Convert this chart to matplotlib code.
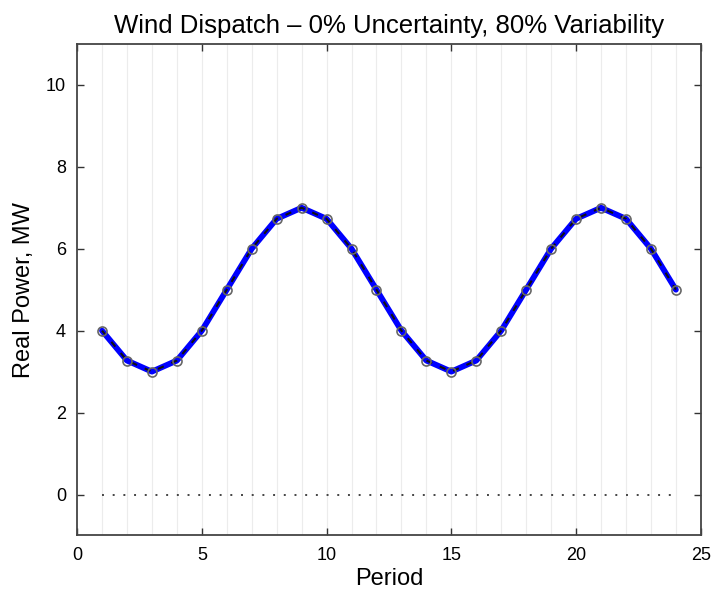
import matplotlib
matplotlib.use("Agg")
import matplotlib.pyplot as plt

plt.rcParams['font.family'] = ['Liberation Sans', 'DejaVu Sans']

# periods and wind dispatch (MW)
period = list(range(1, 25))
dispatch = [4.0, 3.27, 3.0, 3.27, 4.0, 5.0, 6.0, 6.73, 7.0, 6.73, 6.0, 5.0,
            4.0, 3.27, 3.0, 3.27, 4.0, 5.0, 6.0, 6.73, 7.0, 6.73, 6.0, 5.0]
available = dispatch
zero_line = [0.0] * 24

fig = plt.figure(figsize=(7.27, 5.93), dpi=100)
ax = fig.add_axes([0.106, 0.097, 0.858, 0.829])

# light vertical grid at each period
for p in period:
    ax.axvline(p, color='#ececec', lw=0.8, zorder=0)

ax.plot(period, zero_line, color='#444444', lw=1.4, linestyle=(0, (1, 4.5)), zorder=1)
ax.plot(period, dispatch, color='#0000ff', lw=4.2, solid_capstyle='round', zorder=2)
ax.plot(period, available, color='#111111', lw=1.5, linestyle=(0, (3, 4)), zorder=3)
ax.plot(period, available, linestyle='none', marker='o', ms=6.5,
        mfc='none', mec='#666666', mew=1.2, zorder=4)

ax.set_xlim(0, 25)
ax.set_ylim(-1, 11)
ax.set_xticks([0, 5, 10, 15, 20, 25])
ax.set_yticks([0, 2, 4, 6, 8, 10])
ax.tick_params(direction='in', top=True, right=True, labelsize=13, length=5,
               width=1.0, colors='#333333', labelcolor='black', pad=8)
for s in ax.spines.values():
    s.set_linewidth(1.3)
    s.set_color('#444444')

ax.set_xlabel('Period', fontsize=17, labelpad=3)
ax.set_ylabel('Real Power, MW', fontsize=17, labelpad=8)
ax.set_title('Wind Dispatch \u2013 0% Uncertainty, 80% Variability', fontsize=18.5, pad=8)

fig.savefig('out.png', dpi=100)
